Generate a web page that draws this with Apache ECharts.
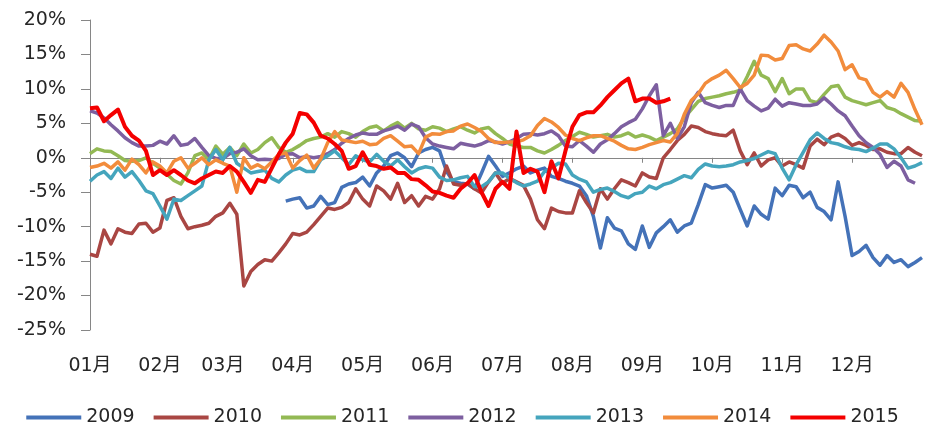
<!DOCTYPE html>
<html><head><meta charset="utf-8">
<script src="https://cdn.jsdelivr.net/npm/echarts@6/dist/echarts.min.js"></script>
<style>html,body{margin:0;padding:0;background:#fff}#c{width:925px;height:426px}</style>
</head><body><div id="c"></div>
<script>
const monthLabels = ['01月','02月','03月','04月','05月','06月','07月','08月','09月','10月','11月','12月'];
const monthStarts = [0,10,19,29,39,49,59,69,79,89,99,109];
const seriesNames = ['2009','2010','2011','2012','2013','2014','2015'];
const seriesColors = ['#4472B8','#A94643','#93B954','#7D5FA0','#45A5BD','#F28C3C','#F40000'];

const s2009 = [null,null,null,null,null,null,null,null,null,null,
null,null,null,null,null,null,null,null,null,null,
null,null,null,null,null,null,null,null,
-6.3,-6.0,-5.8,-7.3,-7.0,-5.6,-6.8,-6.5,-4.3,-3.8,
-3.6,-2.8,-4.1,-2.2,-1.2,0.3,0.7,0.0,-1.3,0.7,
1.2,1.5,1.0,-2.0,-3.5,-3.7,-3.8,-4.5,-2.2,0.2,
-1.2,-2.7,-2.2,-1.6,-1.2,-2.2,-1.8,-1.5,-2.7,-3.0,
-3.4,-3.7,-4.1,-5.5,-8.5,-13.1,-8.7,-10.2,-10.6,-12.5,
-13.3,-9.9,-13.0,-10.9,-10.0,-9.0,-10.8,-9.9,-9.5,-6.8,
-3.9,-4.4,-4.2,-4.0,-5.0,-7.5,-9.9,-7.0,-8.2,-8.9,
-4.4,-5.5,-4.0,-4.2,-5.8,-5.0,-7.2,-7.8,-9.0,-3.5,
-8.5,-14.2,-13.6,-12.7,-14.5,-15.6,-14.2,-15.2,-14.8,-15.8,
-15.2,-14.5];

const s2010 = [-14.0,-14.3,-10.5,-12.5,-10.3,-10.8,-11.0,-9.6,-9.5,-10.8,
-10.2,-6.2,-5.8,-8.5,-10.3,-10.0,-9.8,-9.5,-8.5,-8.0,
-6.6,-8.2,-18.6,-16.5,-15.5,-14.8,-15.0,-13.8,-12.5,-11.0,
-11.2,-10.8,-9.7,-8.5,-7.3,-7.5,-7.2,-6.5,-4.5,-6.0,
-7.0,-4.1,-4.8,-6.0,-3.7,-6.5,-5.5,-7.0,-5.6,-6.0,
-4.5,-1.2,-3.8,-4.0,-3.7,-4.5,-5.1,-3.5,-2.2,-3.7,
-3.0,-3.5,-4.0,-6.0,-9.0,-10.3,-7.3,-7.8,-8.0,-8.0,
-4.8,-6.5,-8.0,-4.5,-6.0,-4.5,-3.2,-3.6,-4.1,-2.2,
-2.8,-3.0,0.0,1.2,2.5,3.4,4.6,4.4,3.8,3.5,
3.3,3.2,4.0,1.0,-1.0,0.7,-1.2,-0.3,0.0,-1.2,
-0.6,-1.0,-1.5,1.7,2.7,1.9,3.0,3.4,2.8,1.8,
2.2,1.8,1.2,1.3,0.8,0.6,0.6,1.5,0.8,0.3];

const s2011 = [0.6,1.3,1.0,0.9,0.3,-0.4,-0.5,-0.4,0.0,-0.8,
-1.5,-2.4,-3.3,-3.8,-2.2,0.3,0.7,-0.3,1.7,0.5,
1.5,0.3,2.0,0.7,1.2,2.2,2.9,1.5,0.8,1.2,
1.8,2.5,2.8,3.0,3.5,3.0,3.8,3.5,3.0,3.8,
4.4,4.6,3.9,4.6,5.1,4.3,5.0,4.2,4.0,4.5,
4.3,3.8,4.2,4.5,4.0,3.6,4.2,4.4,3.5,2.8,
2.0,1.7,1.5,1.5,1.0,0.7,1.2,1.8,2.5,3.1,
3.7,3.4,3.0,3.2,3.4,3.0,3.2,3.6,3.0,3.3,
3.0,2.5,3.0,3.5,4.2,5.8,7.0,8.2,8.6,8.8,
9.0,9.3,9.5,9.8,11.8,14.0,12.0,11.5,9.6,11.5,
9.3,10.0,10.0,8.3,8.0,9.2,10.3,10.5,8.8,8.3,
8.0,7.7,8.0,8.3,7.3,7.0,6.4,5.9,5.4,5.3];

const s2012 = [6.8,6.5,5.8,4.8,3.9,2.9,2.2,1.7,1.7,1.8,
2.4,2.0,3.2,1.8,2.0,2.8,1.5,0.3,-0.1,-0.1,
0.6,0.8,1.3,0.3,-0.3,-0.2,-0.3,-0.1,0.5,0.6,
0.0,0.2,0.0,0.2,0.6,1.2,2.1,2.8,3.3,3.6,
3.4,3.4,3.9,4.2,4.6,4.0,4.9,4.5,2.9,2.0,
1.7,1.5,1.3,2.1,1.9,1.7,2.0,2.5,2.3,2.0,
2.3,2.8,3.4,3.5,3.3,3.5,3.9,3.2,1.7,1.6,
2.5,1.7,0.8,2.0,2.6,3.5,4.5,5.1,5.6,7.1,
9.0,10.6,3.2,5.0,2.8,4.5,8.0,9.5,8.0,7.6,
7.3,7.6,7.6,10.0,8.3,7.5,6.8,7.2,8.5,7.5,
8.0,7.8,7.6,7.6,7.8,8.7,7.8,6.8,6.1,4.6,
3.2,2.2,1.5,0.5,-1.4,-0.5,-1.2,-3.2,-3.7,null];

const s2013 = [-3.4,-2.5,-2.0,-3.0,-1.5,-2.8,-2.0,-3.3,-4.8,-5.2,
-7.0,-8.9,-6.0,-6.2,-5.5,-4.8,-4.1,-0.3,1.2,-0.3,
1.5,-0.8,-1.5,-2.2,-2.0,-1.8,-3.0,-3.5,-2.5,-1.8,
-1.5,-2.0,-2.0,-0.3,0.3,1.0,0.0,-1.0,0.3,-0.3,
-0.6,0.5,-0.5,-1.2,-0.3,-1.3,-2.2,-1.6,-1.3,-1.5,
-2.8,-3.3,-3.2,-2.9,-2.7,-4.2,-4.2,-3.5,-2.2,-2.2,
-3.0,-3.6,-4.1,-3.8,-3.4,-2.0,-1.5,-0.8,-0.9,-2.5,
-3.1,-3.5,-5.0,-4.6,-4.4,-4.9,-5.5,-5.8,-5.2,-5.0,
-4.1,-4.5,-3.9,-3.6,-3.1,-2.6,-2.9,-1.7,-0.9,-1.2,
-1.3,-1.2,-1.0,-0.6,-0.4,-0.1,0.4,0.9,0.6,-1.5,
-3.2,-1.0,0.8,2.6,3.6,2.8,2.2,2.0,1.6,1.3,
1.2,0.9,1.4,2.0,2.0,1.3,0.0,-1.5,-1.2,-0.7];

const s2014 = [-1.4,-1.2,-0.8,-1.5,-0.6,-1.8,-0.2,-1.0,-2.2,-0.6,
-1.2,-2.2,-0.5,0.0,-1.5,-0.8,0.0,-1.0,-0.3,-0.8,
-1.2,-5.0,0.0,-1.5,-1.0,-1.6,-0.6,0.5,0.7,-1.5,
-0.4,0.4,-1.5,-0.2,2.2,3.8,2.6,2.4,2.2,2.4,
1.9,2.0,2.8,3.2,2.4,1.6,1.7,0.6,3.0,3.5,
3.4,3.8,3.9,4.6,4.9,4.4,3.8,2.8,2.2,2.2,
2.3,2.3,2.6,3.2,4.7,5.7,5.2,4.4,3.3,2.8,
2.5,2.9,3.2,3.2,2.8,2.4,1.8,1.3,1.2,1.5,
1.9,2.2,2.5,2.3,3.5,6.3,8.3,9.3,10.8,11.5,
12.0,12.7,11.5,10.2,10.8,12.0,14.9,14.8,14.2,14.4,
16.3,16.4,15.8,15.5,16.5,17.8,16.8,15.5,12.8,13.5,
11.6,11.3,9.5,8.8,9.6,8.8,10.8,9.5,7.0,4.8];

const s2015 = [7.2,7.3,5.3,6.2,7.0,4.5,3.2,2.5,1.0,-2.5,
-1.8,-2.5,-1.8,-2.5,-3.3,-3.7,-3.0,-2.5,-2.0,-2.2,
-1.2,-2.0,-3.5,-5.1,-3.2,-3.5,-1.5,0.5,2.2,3.5,
6.5,6.3,5.1,3.2,2.8,2.0,1.0,-1.6,-1.2,0.8,
-1.0,-1.2,-1.6,-1.4,-2.2,-2.2,-3.1,-3.2,-4.0,-4.9,
-5.1,-5.5,-5.8,-4.5,-3.7,-2.5,-5.0,-7.0,-4.5,-3.5,
-4.5,3.8,-2.2,-1.6,-2.0,-5.0,-0.5,-3.0,1.0,4.5,
6.2,6.6,6.6,7.6,8.8,9.8,10.8,11.5,8.2,8.6,
8.6,8.0,8.2,8.6];

const allSeries = [s2009,s2010,s2011,s2012,s2013,s2014,s2015];
const dayCount = 120;
const days = [];
for (let i = 0; i < dayCount; i++) days.push('d' + i);

const font = '"DejaVu Sans", "Noto Sans CJK SC", sans-serif';
const isMonthStart = (idx) => monthStarts.indexOf(idx) >= 0;

const chart = echarts.init(document.getElementById('c'), null, {renderer: 'canvas'});
chart.setOption({
  animation: false,
  backgroundColor: '#fff',
  grid: {left: 90, right: 3, top: 20, bottom: 96, containLabel: false, outerBoundsMode: 'none'},
  legend: {
    data: seriesNames, left: 'center', top: 403, icon: 'rect',
    itemWidth: 55, itemHeight: 4, itemGap: 19,
    textStyle: {fontFamily: font, fontSize: 19, color: '#262626'}
  },
  xAxis: [{
    type: 'category', data: days, boundaryGap: false, position: 'bottom',
    axisLine: {show: false, onZero: false}, axisTick: {show: false},
    axisLabel: {
      interval: (idx) => isMonthStart(idx), margin: 27,
      formatter: (v, idx) => monthLabels[monthStarts.indexOf(idx)] || '',
      fontFamily: font, fontSize: 19, color: '#262626'
    },
    splitLine: {show: false}
  }, {
    type: 'category', data: days, boundaryGap: false, position: 'bottom',
    axisLine: {show: true, onZero: true, lineStyle: {color: '#868686', width: 1}},
    axisTick: {show: true, interval: (idx) => isMonthStart(idx), length: 5, lineStyle: {color: '#868686'}},
    axisLabel: {show: false}, splitLine: {show: false}
  }],
  yAxis: {
    type: 'value', min: -25, max: 20, interval: 5,
    axisLine: {show: true, lineStyle: {color: '#868686', width: 1}},
    axisTick: {show: true, length: 9, lineStyle: {color: '#868686'}},
    axisLabel: {formatter: '{value}%', margin: 24, fontFamily: font, fontSize: 19, color: '#262626'},
    splitLine: {show: false}
  },
  series: seriesNames.map((n, k) => ({
    name: n, type: 'line', xAxisIndex: 0, data: allSeries[k],
    showSymbol: false, symbol: 'none', connectNulls: false,
    color: seriesColors[k],
    lineStyle: {width: k === 6 ? 4 : 3.5, color: seriesColors[k], join: 'round'}
  }))
});
</script></body></html>
